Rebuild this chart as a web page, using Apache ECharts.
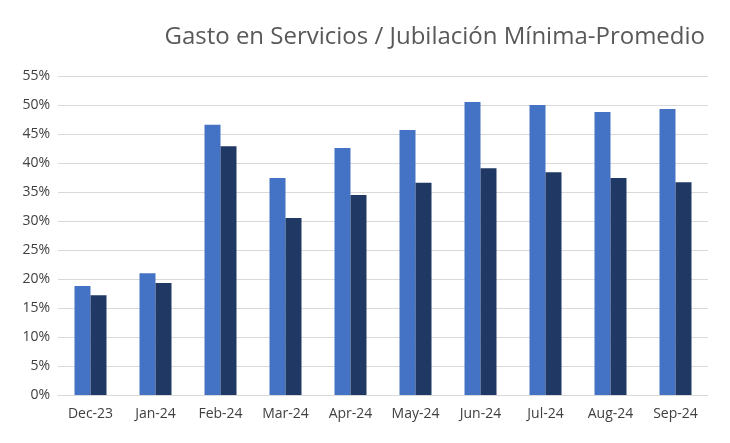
<!DOCTYPE html>
<html>
<head>
<meta charset="utf-8">
<script src="https://cdn.jsdelivr.net/npm/echarts@6/dist/echarts.min.js"></script>
<style>html,body{margin:0;padding:0;background:#fff}#chart{width:730px;height:443px}</style>
</head>
<body>
<div id="chart"></div>
<script>
const categories = ["Dec-23", "Jan-24", "Feb-24", "Mar-24", "Apr-24", "May-24", "Jun-24", "Jul-24", "Aug-24", "Sep-24"];
const serieMinima = [18.8, 21.0, 46.6, 37.4, 42.6, 45.7, 50.5, 50.0, 48.8, 49.3];
const seriePromedio = [17.2, 19.3, 42.9, 30.5, 34.5, 36.6, 39.1, 38.4, 37.4, 36.7];

let myChart = echarts.init(document.getElementById("chart"));
let option = {
  animation: false,
  title: {
    text: "Gasto en Servicios / Jubilación Mínima-Promedio",
    right: 20,
    top: 20,
    textStyle: { fontFamily: "Open Sans", fontWeight: "normal", fontSize: 24, color: "#595959" },
  },
  grid: { left: 58, right: 22, top: 76, bottom: 48 },
  xAxis: {
    type: "category",
    data: categories,
    axisTick: { show: false },
    axisLine: { lineStyle: { color: "#d9d9d9" } },
    axisLabel: { color: "#404040", fontSize: 14, fontFamily: "Open Sans", margin: 12 },
  },
  yAxis: {
    type: "value",
    min: 0,
    max: 55,
    interval: 5,
    axisLabel: { formatter: "{value}%", color: "#404040", fontSize: 14, fontFamily: "Open Sans" },
    splitLine: { lineStyle: { color: "#d9d9d9" } },
  },
  series: [
    { name: "Mínima", type: "bar", data: serieMinima, barWidth: 16, barGap: "0%", itemStyle: { color: "#4472C4" } },
    { name: "Promedio", type: "bar", data: seriePromedio, barWidth: 16, itemStyle: { color: "#203864" } },
  ],
};
option && myChart.setOption(option);
</script>
</body>
</html>
